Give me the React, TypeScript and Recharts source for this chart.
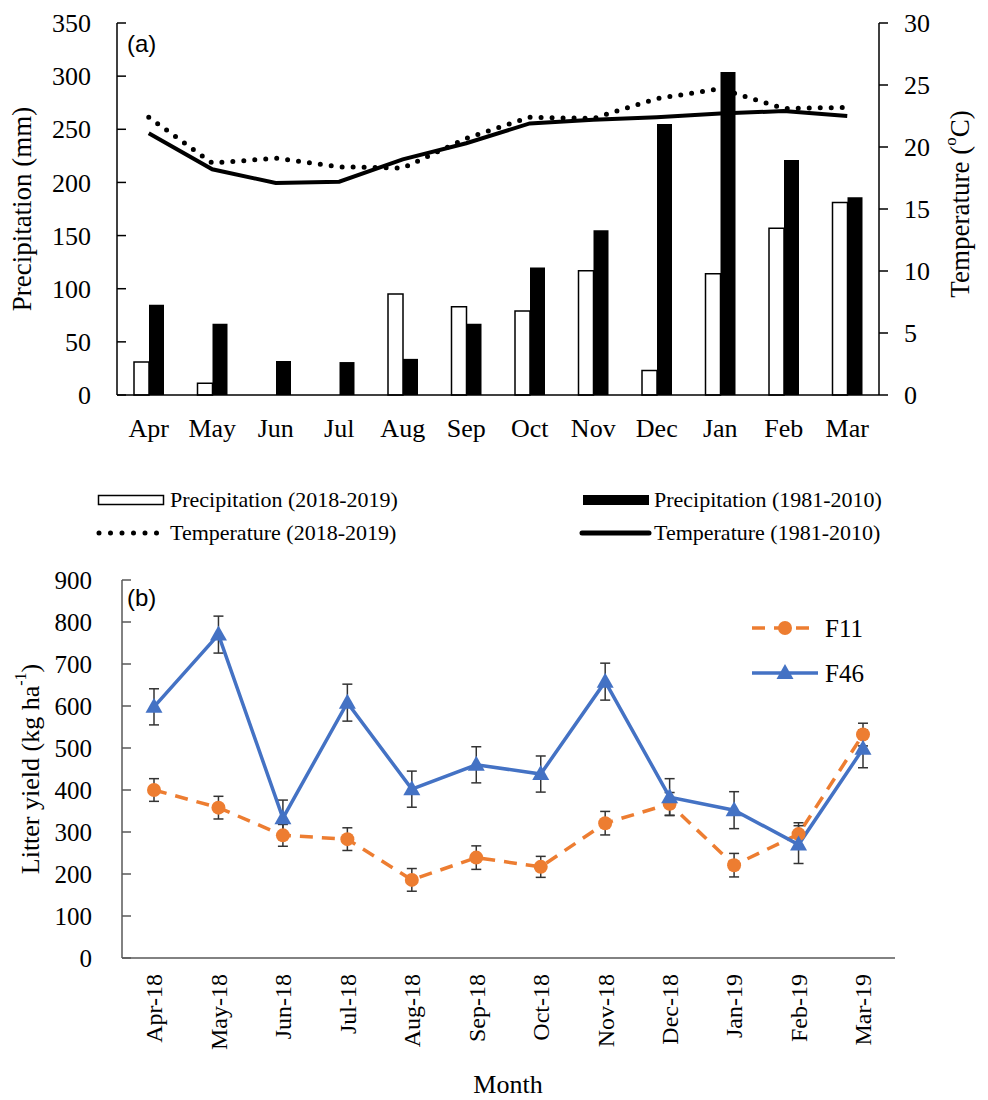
import React from "react";
import {
  ComposedChart,
  LineChart,
  Bar,
  Line,
  XAxis,
  YAxis,
  ErrorBar,
  Label,
} from "recharts";

const SERIF = '"Liberation Serif", "Times New Roman", serif';
const SANS = '"Liberation Sans", Arial, sans-serif';

// (a) climate
const months = ["Apr", "May", "Jun", "Jul", "Aug", "Sep", "Oct", "Nov", "Dec", "Jan", "Feb", "Mar"];
const precip2018 = [31, 11, 0, 0, 95, 83, 79, 117, 23, 114, 157, 181];
const precipNormal = [85, 67, 32, 31, 34, 67, 120, 155, 255, 304, 221, 186];
const temp2018 = [22.4, 18.7, 19.1, 18.4, 18.3, 20.7, 22.4, 22.3, 23.9, 24.7, 23.1, 23.2];
const tempNormal = [21.1, 18.2, 17.1, 17.2, 19.0, 20.3, 21.9, 22.2, 22.4, 22.7, 22.9, 22.5];
const precipTicks = [0, 50, 100, 150, 200, 250, 300, 350];
const tempTicks = [0, 5, 10, 15, 20, 25, 30];

// (b) litter yield
const litterMonths = ["Apr-18", "May-18", "Jun-18", "Jul-18", "Aug-18", "Sep-18", "Oct-18", "Nov-18", "Dec-18", "Jan-19", "Feb-19", "Mar-19"];
const f11 = [400, 358, 292, 283, 186, 239, 217, 321, 367, 221, 295, 532];
const f11Err = [27, 27, 26, 27, 27, 28, 25, 28, 27, 28, 27, 27];
const f46 = [598, 770, 333, 608, 402, 460, 438, 658, 383, 352, 270, 498];
const f46Err = [43, 44, 43, 44, 43, 43, 43, 44, 44, 44, 45, 45];
const litterTicks = [0, 100, 200, 300, 400, 500, 600, 700, 800, 900];

const climateData = months.map((m, i) => ({
  month: m,
  p2018: precip2018[i],
  pNormal: precipNormal[i],
  t2018: temp2018[i],
  tNormal: tempNormal[i],
}));

const litterData = litterMonths.map((m, i) => ({
  month: m,
  f11: f11[i],
  f11Err: f11Err[i],
  f46: f46[i],
  f46Err: f46Err[i],
}));

const ORANGE = "#ED7D31";
const BLUE = "#4472C4";

// y tick with the tick mark pointing inward, like the Excel original
function InwardTick(props: any) {
  const { x, y, payload, gap, color, fontSize } = props;
  return (
    <g>
      <line x1={x + gap} x2={x + gap + 9} y1={y} y2={y} stroke={color} strokeWidth={1.5} />
      <text x={x} y={y} dy="0.35em" textAnchor="end" fontFamily={SERIF} fontSize={fontSize} fill="#000">
        {payload.value}
      </text>
    </g>
  );
}

function MonthTick(props: any) {
  const { x, y, payload } = props;
  return (
    <text x={x} y={y + 42} textAnchor="middle" fontFamily={SERIF} fontSize={26} fill="#000">
      {payload.value}
    </text>
  );
}

function RotatedTick(props: any) {
  const { x, y, payload } = props;
  return (
    <text
      x={x}
      y={y}
      dy="0.35em"
      textAnchor="end"
      transform={`rotate(-90, ${x}, ${y})`}
      fontFamily={SERIF}
      fontSize={24}
      fill="#000"
    >
      {payload.value}
    </text>
  );
}

function Triangle(props: any) {
  const { cx, cy, index } = props;
  if (cx == null || cy == null) return <g key={`t-${index}`} />;
  return (
    <polygon
      key={`t-${index}`}
      points={`${cx},${cy - 9} ${cx - 8.5},${cy + 6} ${cx + 8.5},${cy + 6}`}
      fill={BLUE}
    />
  );
}

function Circle(props: any) {
  const { cx, cy, index } = props;
  if (cx == null || cy == null) return <g key={`c-${index}`} />;
  return <circle key={`c-${index}`} cx={cx} cy={cy} r={7} fill={ORANGE} />;
}

function ClimateChart() {
  return (
    <ComposedChart
      width={988}
      height={450}
      data={climateData}
      margin={{ top: 23, right: 0, left: 0, bottom: 0 }}
      barGap={0}
    >
      <XAxis
        dataKey="month"
        height={55}
        tickLine={false}
        tickSize={0}
        tickMargin={0}
        axisLine={{ stroke: "#000", strokeWidth: 1.5 }}
        tick={<MonthTick />}
        interval={0}
      />
      <YAxis
        yAxisId="left"
        width={117}
        domain={[0, 350]}
        ticks={precipTicks}
        tickLine={false}
        tickSize={0}
        tickMargin={26}
        axisLine={{ stroke: "#000", strokeWidth: 1.5 }}
        tick={(p: any) => <InwardTick {...p} gap={26} color="#000" fontSize={26} />}
      >
        <Label
          content={() => (
            <text
              x={22}
              y={209}
              transform="rotate(-90, 22, 209)"
              textAnchor="middle"
              dominantBaseline="central"
              fontFamily={SERIF}
              fontSize={27}
              fill="#000"
            >
              Precipitation (mm)
            </text>
          )}
        />
      </YAxis>
      <YAxis
        yAxisId="right"
        orientation="right"
        width={109}
        domain={[0, 30]}
        ticks={tempTicks}
        tickSize={9}
        tickMargin={16}
        tickLine={{ stroke: "#000", strokeWidth: 1.5 }}
        axisLine={{ stroke: "#000", strokeWidth: 1.5 }}
        tick={{ fill: "#000", fontSize: 26, fontFamily: SERIF }}
      >
        <Label
          content={() => (
            <text
              x={960}
              y={204}
              transform="rotate(-90, 960, 204)"
              textAnchor="middle"
              dominantBaseline="central"
              fontFamily={SERIF}
              fontSize={27}
              fill="#000"
            >
              <tspan>Temperature (</tspan>
              <tspan fontSize={17} dy={-10}>o</tspan>
              <tspan dy={10}>C)</tspan>
            </text>
          )}
        />
      </YAxis>
      <Bar yAxisId="left" dataKey="p2018" fill="#fff" stroke="#000" strokeWidth={1.5} barSize={15} isAnimationActive={false} />
      <Bar yAxisId="left" dataKey="pNormal" fill="#000" barSize={15} isAnimationActive={false} />
      <Line
        yAxisId="right"
        type="linear"
        dataKey="tNormal"
        stroke="#000"
        strokeWidth={4}
        dot={false}
        isAnimationActive={false}
      />
      <Line
        yAxisId="right"
        type="linear"
        dataKey="t2018"
        stroke="#000"
        strokeWidth={5}
        strokeDasharray="0 11"
        strokeLinecap="round"
        dot={false}
        isAnimationActive={false}
      />
      <text x={127} y={52} fontFamily={SANS} fontSize={24} fill="#000">(a)</text>
    </ComposedChart>
  );
}

function ClimateLegend() {
  const textStyle: React.CSSProperties = {
    position: "absolute",
    fontFamily: SERIF,
    fontSize: 22,
    lineHeight: "22px",
    color: "#000",
    whiteSpace: "nowrap",
  };
  return (
    <>
      <svg style={{ position: "absolute", left: 0, top: 480 }} width={988} height={70}>
        <rect x={98.5} y={15.5} width={65} height={9} fill="#fff" stroke="#000" strokeWidth={1.5} />
        <rect x={583} y={15} width={66} height={10} fill="#000" />
        <line x1={99} x2={160} y1={53} y2={53} stroke="#000" strokeWidth={5} strokeDasharray="0 11.5" strokeLinecap="round" />
        <line x1={582} x2={649} y1={53} y2={53} stroke="#000" strokeWidth={5} strokeLinecap="round" />
      </svg>
      <span style={{ ...textStyle, left: 170, top: 489 }}>Precipitation (2018-2019)</span>
      <span style={{ ...textStyle, left: 654, top: 489 }}>Precipitation (1981-2010)</span>
      <span style={{ ...textStyle, left: 170, top: 522 }}>Temperature (2018-2019)</span>
      <span style={{ ...textStyle, left: 654, top: 522 }}>Temperature (1981-2010)</span>
    </>
  );
}

function LitterChart() {
  return (
    <LineChart
      width={988}
      height={560}
      data={litterData}
      margin={{ top: 40, right: 93, left: 0, bottom: 0 }}
    >
      <XAxis
        dataKey="month"
        height={142}
        padding={{ left: 32, right: 32 }}
        tickLine={false}
        tickSize={0}
        tickMargin={16}
        axisLine={{ stroke: "#595959", strokeWidth: 1.5 }}
        tick={<RotatedTick />}
        interval={0}
      >
        <Label
          content={() => (
            <text x={508} y={553} textAnchor="middle" fontFamily={SERIF} fontSize={26} fill="#000">
              Month
            </text>
          )}
        />
      </XAxis>
      <YAxis
        width={122}
        domain={[0, 900]}
        ticks={litterTicks}
        tickLine={false}
        tickSize={0}
        tickMargin={30}
        axisLine={{ stroke: "#595959", strokeWidth: 1.5 }}
        tick={(p: any) => <InwardTick {...p} gap={30} color="#595959" fontSize={25} />}
      >
        <Label
          content={() => (
            <text
              x={30}
              y={229}
              transform="rotate(-90, 30, 229)"
              textAnchor="middle"
              dominantBaseline="central"
              fontFamily={SERIF}
              fontSize={26}
              fill="#000"
            >
              <tspan>Litter yield (kg ha</tspan>
              <tspan fontSize={16} dy={-10}>-1</tspan>
              <tspan dy={10}>)</tspan>
            </text>
          )}
        />
      </YAxis>
      <Line
        type="linear"
        dataKey="f11"
        stroke={ORANGE}
        strokeWidth={3.5}
        strokeDasharray="13 9"
        dot={(p: any) => <Circle {...p} />}
        activeDot={false}
        isAnimationActive={false}
      >
        <ErrorBar dataKey="f11Err" width={5} stroke="#333" strokeWidth={1.5} direction="y" />
      </Line>
      <Line
        type="linear"
        dataKey="f46"
        stroke={BLUE}
        strokeWidth={3.5}
        dot={(p: any) => <Triangle {...p} />}
        activeDot={false}
        isAnimationActive={false}
      >
        <ErrorBar dataKey="f46Err" width={5} stroke="#333" strokeWidth={1.5} direction="y" />
      </Line>
      <text x={127} y={66} fontFamily={SANS} fontSize={24} fill="#000">(b)</text>
    </LineChart>
  );
}

function LitterLegend() {
  const textStyle: React.CSSProperties = {
    position: "absolute",
    fontFamily: SERIF,
    fontSize: 25,
    lineHeight: "25px",
    color: "#000",
    whiteSpace: "nowrap",
  };
  return (
    <>
      <svg style={{ position: "absolute", left: 740, top: 605 }} width={90} height={90}>
        <line x1={12} x2={78} y1={23} y2={23} stroke={ORANGE} strokeWidth={3.5} strokeDasharray="13 9" />
        <circle cx={45} cy={23} r={7} fill={ORANGE} />
        <line x1={12} x2={78} y1={68} y2={68} stroke={BLUE} strokeWidth={3.5} />
        <polygon points="45,59 36.5,74 53.5,74" fill={BLUE} />
      </svg>
      <span style={{ ...textStyle, left: 825, top: 616 }}>F11</span>
      <span style={{ ...textStyle, left: 825, top: 661 }}>F46</span>
    </>
  );
}

export default function App() {
  return (
    <div style={{ position: "absolute", left: 0, top: 0, width: 988, height: 1100, background: "#fff" }}>
      <div style={{ position: "absolute", left: 0, top: 0 }}>
        <ClimateChart />
      </div>
      <ClimateLegend />
      <div style={{ position: "absolute", left: 0, top: 540 }}>
        <LitterChart />
      </div>
      <LitterLegend />
    </div>
  );
}
